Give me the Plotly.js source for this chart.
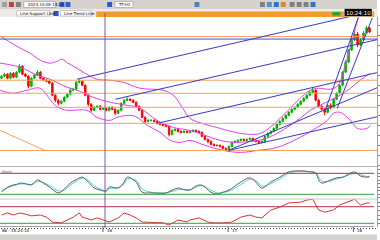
<!DOCTYPE html>
<html><head><meta charset="utf-8">
<script src="https://cdn.plot.ly/plotly-3.0.1.min.js"></script>
<style>html,body{margin:0;padding:0;background:#fff;overflow:hidden}#chart{width:380px;height:240px}</style>
</head><body><div id="chart"></div>
<script>
// ---- candle data (price units) ----
const openP  = [87,89,91,87,92,88,93,99,91,89, 79,87,90,93,87,85,84,82,70,65, 62,64,68,71,75,76,83,84,80,70, 61,55,58,59,56,57,55,58,56,52, 55,62,65,66,65,63,59,55,48,44, 45,45,44,42,41,40,39,31,35,36, 34,33,34,33,34,35,34,33,29,26, 24,21,20,20,19,17,16,19,23,24, 25,26,25,26,27,25,24,23,24,29, 32,34,37,41,44,47,50,53,56,58, 61,64,67,70,73,75,65,59,56,53, 60,58,66,72,80,93,103,115,125,131, 120,125,132,137];
const highP  = [90,92,92,93,93,94,101,100,92,90, 88,91,95,94,88,86,85,83,71,66, 65,69,72,77,77,84,86,85,81,71, 62,59,60,60,58,58,59,59,57,56, 63,66,68,67,66,64,60,56,49,46, 46,46,45,43,42,41,40,36,37,37, 35,35,35,35,36,36,35,34,30,27, 25,22,21,21,20,18,20,24,25,26, 27,27,27,28,28,26,25,25,30,33, 35,38,42,45,48,51,54,57,59,62, 65,68,71,74,78,76,66,60,57,61, 62,67,73,81,94,105,116,127,134,133, 127,134,139,138];
const lowP   = [86,88,86,86,87,87,92,90,88,77, 78,86,89,86,84,83,81,69,63,60, 61,63,67,70,74,75,82,79,69,59, 53,54,57,55,55,54,54,55,50,51, 54,61,64,64,62,58,54,47,42,43, 44,43,41,40,39,38,29,30,34,33, 32,32,32,32,33,33,32,28,25,22, 20,19,19,18,16,15,15,18,22,23, 24,24,24,25,24,23,22,22,23,28, 31,33,36,40,43,46,49,52,55,57, 60,63,66,69,72,64,58,55,50,52, 56,57,65,71,79,92,102,114,124,118, 119,124,131,132];
const closeP = [89,91,87,92,88,93,99,91,89,79, 87,90,93,87,85,84,82,70,65,62, 64,68,71,75,76,83,84,80,70,61, 55,58,59,56,57,55,58,56,52,55, 62,65,66,65,63,59,55,48,44,45, 45,44,42,41,40,39,31,35,36,34, 33,34,33,34,35,34,33,29,26,24, 21,20,20,19,17,16,19,23,24,25, 26,25,26,27,25,24,23,24,29,32, 34,37,41,44,47,50,53,56,58,61, 64,67,70,73,75,65,59,56,53,60, 58,66,72,80,93,103,115,125,131,120, 125,132,137,133];

// ---- Bollinger bands ----
const bbUpX = [-0.5,2.8,6.2,9.5,12.9,16.2,18.6,20.2,22.2,24.6,27.3,31.9,36.3,40.6,46.3,54,57.4,60.4,63,68.1,73.1,78.1,83.1,86.5,89.8,93.1,96.5,99.8,103.2,105.9,109.9,112.5,114.9,117.2,119.2,120.6];
const bbUp  = [129,123,117,112,105,102,104,106,102,98,93,86,85,83,77,75,70,58,47,41,37,33,31,32,38,47,57,67,75,77,76,80,100,125,147,160];
const bbMidX = [-0.5,6.2,11.9,16.2,21.9,25.3,30.6,36.3,42,46.3,52,57.4,63,68.1,73.1,78.1,83.1,87.5,92.1,96.5,99.8,103.2,106.5,109.9,113.2,116.6,119.9,123.2];
const bbMid  = [102,98,90,86,78,75,68,63,60,57,45,38,35,30,25,23,24,26,32,40,47,55,60,65,70,77,85,92];
const bbLoX = [-0.5,3.8,8.5,12.9,17.2,18.9,21.9,28.6,31.9,36.3,38.6,43,45.3,48.7,53,56.4,59.7,63,68.1,74.1,79.8,85.5,92.1,99.8,105.5,108.9,110.9,113.2,116.6,118.9,122.2,123.2];
const bbLo  = [75,72,75,77,62,58,55,55,48,45,48,50,48,40,33,25,23,25,20,15,13,15,18,28,38,45,52,53,45,37,37,40];

// ---- Stochastic ----
const stX = [0,2,4,5,6,8,10,12,14,16,19,21,23,25,27,29,31,33,35,36,39,41,42,45,47,50,53,55,59,61,63,65,67,70,72,74,76,80,83,85,87,90,93,96,100,103,105,106,107,110,112,114,118,120,122,123];
const stMain = [27,40,47,48,52,50,47,61,52,41,24,35,52,62,69,55,38,32,29,41,38,55,69,55,26,24,23,24,38,33,32,44,46,26,21,26,32,55,67,55,38,55,69,84,87,84,81,61,52,61,67,69,84,72,69,70];
const stSignal = [30,38,45,47,49,50,48,56,54,45,30,32,46,58,66,60,44,35,31,36,39,50,63,60,35,26,24,24,33,34,33,40,45,32,24,25,29,48,63,59,44,50,64,80,86,85,82,70,58,58,64,68,80,76,71,70];
const stLevels = [80, 20];

// ---- RSI ----
const rsX = [0,2,4,6,8,10,13,15,17,20,22,24,26,27,30,32,34,36,39,41,43,45,47,51,54,56,59,62,63,66,69,71,74,77,80,83,85,87,90,93,96,100,102,104,106,108,111,113,117,118,120,122,123];
const rsV = [50,55,50,55,52,48,50,45,33,31,38,45,55,45,38,43,38,33,43,55,50,43,33,31,31,26,38,33,38,43,33,31,31,33,45,50,45,43,62,69,79,81,86,88,62,57,62,74,86,88,74,79,79];
const rsLevels = [70, 30];

// ---- drawn objects ----
const orangeLevels = [128.5, 85, 72, 58, 42, 15];
const blueLevels = [126];
const trendX0 = [25.25, 38.0, 52.0, 75.8, 75.8, 108.2, 112.2];
const trendY0 = [86, 66, 42, 15, 15, 55, 57];
const trendX1 = [125.6, 125.6, 125.6, 125.6, 125.9, 119.2, 123.9];
const trendY1 = [154.7, 125.5, 92.6, 48.6, 78, 147, 147];
const fiboX = [-0.5, 14.55];
const fiboY = [35, 15];
const markerBar = [34.6];
const dayTicks = [33.9, 75.75, 117.6];
const dayLabels = ['16', '17', '18'];

const W = 380, H = 240;
const px = v => v / W;
const py = v => 1 - v / H;
const idx = closeP.map((_, i) => i);

const traces = [
  {type:'candlestick', x: idx, open: openP, high: highP, low: lowP, close: closeP, xaxis:'x', yaxis:'y',
   increasing:{line:{color:'#00b000', width:1}, fillcolor:'#00c000'},
   decreasing:{line:{color:'#ff0000', width:1}, fillcolor:'#ff0000'},
   whiskerwidth:0, hoverinfo:'skip', showlegend:false},
  {type:'scatter', mode:'lines', x: bbUpX, y: bbUp, line:{color:'#e040e0', width:1, shape:'spline'}, xaxis:'x', yaxis:'y', showlegend:false},
  {type:'scatter', mode:'lines', x: bbMidX, y: bbMid, line:{color:'#e040e0', width:1, shape:'spline'}, xaxis:'x', yaxis:'y', showlegend:false},
  {type:'scatter', mode:'lines', x: bbLoX, y: bbLo, line:{color:'#e040e0', width:1, shape:'spline'}, xaxis:'x', yaxis:'y', showlegend:false},
  {type:'scatter', mode:'lines', x: stX, y: stSignal, line:{color:'#40d8d8', width:1, shape:'spline'}, xaxis:'x', yaxis:'y2', showlegend:false},
  {type:'scatter', mode:'lines', x: stX, y: stMain, line:{color:'#606060', width:1, shape:'spline'}, xaxis:'x', yaxis:'y2', showlegend:false},
  {type:'scatter', mode:'lines', x: rsX, y: rsV, line:{color:'#e03030', width:1}, xaxis:'x', yaxis:'y3', showlegend:false}
];

const shapes = [];
// chrome
shapes.push({type:'rect', xref:'paper', yref:'paper', x0:0, x1:1, y0:py(9), y1:1, fillcolor:'#d6d3ce', line:{width:0}, layer:'below'});
shapes.push({type:'rect', xref:'paper', yref:'paper', x0:0, x1:1, y0:py(17), y1:py(9), fillcolor:'#ecebe8', line:{width:0}, layer:'below'});
shapes.push({type:'rect', xref:'paper', yref:'paper', x0:px(97), x1:px(377), y0:py(17), y1:py(11.5), fillcolor:'#f39a2e', line:{width:0}});
shapes.push({type:'rect', xref:'paper', yref:'paper', x0:px(17), x1:px(50), y0:py(16), y1:py(10.5), fillcolor:'#ffffff', line:{color:'#999', width:0.5}});
shapes.push({type:'rect', xref:'paper', yref:'paper', x0:px(54), x1:px(59), y0:py(16), y1:py(11), fillcolor:'#3050c0', line:{width:0}});
shapes.push({type:'rect', xref:'paper', yref:'paper', x0:px(61), x1:px(92), y0:py(16), y1:py(10.5), fillcolor:'#ffffff', line:{color:'#999', width:0.5}});
shapes.push({type:'rect', xref:'paper', yref:'paper', x0:px(335), x1:px(343), y0:py(15.5), y1:py(12), fillcolor:'#2ca02c', line:{width:0}});
shapes.push({type:'rect', xref:'paper', yref:'paper', x0:px(347), x1:px(375), y0:py(16.5), y1:py(8.5), fillcolor:'#000000', line:{color:'#ffffff', width:0.5}});
// toolbar icons
[[2,'#a0a0a0'],[9,'#c04040'],[16,'#808080'],[60,'#3060c0'],[66,'#3060c0'],[108,'#2060d0'],[196,'#5080c0'],[262,'#808080'],[269,'#5090d0'],[276,'#3070d0'],[283,'#d09030'],[292,'#808080'],[299,'#808080'],[306,'#808080'],[313,'#3070d0']].forEach(([x,c])=>{
  shapes.push({type:'rect', xref:'paper', yref:'paper', x0:px(x), x1:px(x+5), y0:py(7), y1:py(2), fillcolor:c, line:{width:0}});
});
shapes.push({type:'rect', xref:'paper', yref:'paper', x0:px(24), x1:px(56), y0:py(7.5), y1:py(1.5), fillcolor:'#ffffff', line:{color:'#888', width:0.5}});
shapes.push({type:'rect', xref:'paper', yref:'paper', x0:px(116), x1:px(134), y0:py(7.5), y1:py(1.5), fillcolor:'#ffffff', line:{color:'#888', width:0.5}});
// bottom bars
shapes.push({type:'rect', xref:'paper', yref:'paper', x0:0, x1:1, y0:0, y1:py(234.5), fillcolor:'#d6d3ce', line:{width:0}});
shapes.push({type:'line', xref:'paper', yref:'paper', x0:0, x1:px(377), y0:py(226.5), y1:py(226.5), line:{color:'#a0a0a0', width:1}});
// pane separators
shapes.push({type:'line', xref:'paper', yref:'paper', x0:0, x1:1, y0:py(166.5), y1:py(166.5), line:{color:'#b0b0b0', width:1}});
shapes.push({type:'line', xref:'paper', yref:'paper', x0:0, x1:1, y0:py(199), y1:py(199), line:{color:'#c8c8c8', width:1}});
// oscillator levels
stLevels.forEach((v,k)=>shapes.push({type:'line', xref:'paper', yref:'y2', x0:0, x1:px(377), y0:v, y1:v, line:{color: k===0?'#b03048':'#30a040', width:1}}));
rsLevels.forEach((v,k)=>shapes.push({type:'line', xref:'paper', yref:'y3', x0:0, x1:px(377), y0:v, y1:v, line:{color: k===0?'#b03048':'#30a040', width:1}}));
// horizontal price levels
orangeLevels.forEach(v=>shapes.push({type:'line', xref:'x', yref:'y', x0:-0.5, x1:126, y0:v, y1:v, line:{color:'#f2a35a', width:1}}));
blueLevels.forEach(v=>shapes.push({type:'line', xref:'x', yref:'y', x0:-0.5, x1:126, y0:v, y1:v, line:{color:'#4a4ad0', width:1}}));
// trend lines
trendX0.forEach((x0,k)=>shapes.push({type:'line', xref:'x', yref:'y', x0:x0, y0:trendY0[k], x1:trendX1[k], y1:trendY1[k], line:{color:'#3838c8', width:1}}));
shapes.push({type:'line', xref:'x', yref:'y', x0:fiboX[0], y0:fiboY[0], x1:fiboX[1], y1:fiboY[1], line:{color:'#f2a35a', width:1}});
// vertical marker
markerBar.forEach(x=>shapes.push({type:'line', xref:'x', yref:'paper', x0:x, x1:x, y0:py(228), y1:py(13), line:{color:'#8a50a8', width:1}}));
// day ticks
dayTicks.forEach(x=>shapes.push({type:'line', xref:'x', yref:'paper', x0:x, x1:x, y0:py(232), y1:py(227), line:{color:'#606060', width:1}}));

const F = 'DejaVu Sans';
const annotations = [
  {xref:'paper', yref:'paper', x:px(26), y:py(4.5), text:'2024.10.09 14:12', showarrow:false, xanchor:'left', yanchor:'middle', font:{family:F, size:4, color:'#000'}},
  {xref:'paper', yref:'paper', x:px(117), y:py(4.5), text:'TF:H1', showarrow:false, xanchor:'left', yanchor:'middle', font:{family:F, size:4, color:'#000'}},
  {xref:'paper', yref:'paper', x:px(18), y:py(13.3), text:'Line Support Line', showarrow:false, xanchor:'left', yanchor:'middle', font:{family:F, size:4, color:'#000'}},
  {xref:'paper', yref:'paper', x:px(62), y:py(13.3), text:'Line Trend Line', showarrow:false, xanchor:'left', yanchor:'middle', font:{family:F, size:4, color:'#000'}},
  {xref:'paper', yref:'paper', x:px(361), y:py(12.5), text:'10:24:10', showarrow:false, xanchor:'center', yanchor:'middle', font:{family:F, size:5.5, color:'#fff'}},
  {xref:'paper', yref:'paper', x:px(0.5), y:py(172), text:'Stoch', showarrow:false, xanchor:'left', yanchor:'middle', font:{family:F, size:3.5, color:'#555'}},
  {xref:'paper', yref:'paper', x:px(0.5), y:py(230.5), text:'86 - 15:24:10', showarrow:false, xanchor:'left', yanchor:'middle', font:{family:F, size:4, color:'#000'}}
];
dayTicks.forEach((x,k)=>annotations.push({xref:'x', yref:'paper', x:x+0.6, y:py(230.5), text:dayLabels[k], showarrow:false, xanchor:'left', yanchor:'middle', font:{family:F, size:4, color:'#000'}}));

const yCommon = {side:'right', showgrid:false, zeroline:false, showline:true, linecolor:'#a0a0a0', linewidth:1, ticks:'outside', ticklen:2, tickcolor:'#808080', showticklabels:false, fixedrange:true};
const layout = {
  width:W, height:H, margin:{l:0, r:3, t:0, b:0}, paper_bgcolor:'#ffffff', plot_bgcolor:'#ffffff', showlegend:false,
  xaxis:{range:[-0.5,125.5], anchor:'y3', showgrid:false, zeroline:false, showline:false, showticklabels:false,
         ticks:'outside', tickvals: dayTicks, ticklen:0, minor:{dtick:1, tick0:0, ticks:'outside', ticklen:1.5, tickcolor:'#404040'},
         rangeslider:{visible:false}, fixedrange:true},
  yaxis:Object.assign({}, yCommon, {domain:[py(166.5), py(17)], range:[-1,148], dtick:10}),
  yaxis2:Object.assign({}, yCommon, {domain:[py(199), py(167)], range:[6.6,98], dtick:10}),
  yaxis3:Object.assign({}, yCommon, {domain:[py(226.5), py(199)], range:[22.3,88.6], dtick:10}),
  shapes: shapes, annotations: annotations
};
Plotly.newPlot('chart', traces, layout, {staticPlot:true, displayModeBar:false});
</script></body></html>
